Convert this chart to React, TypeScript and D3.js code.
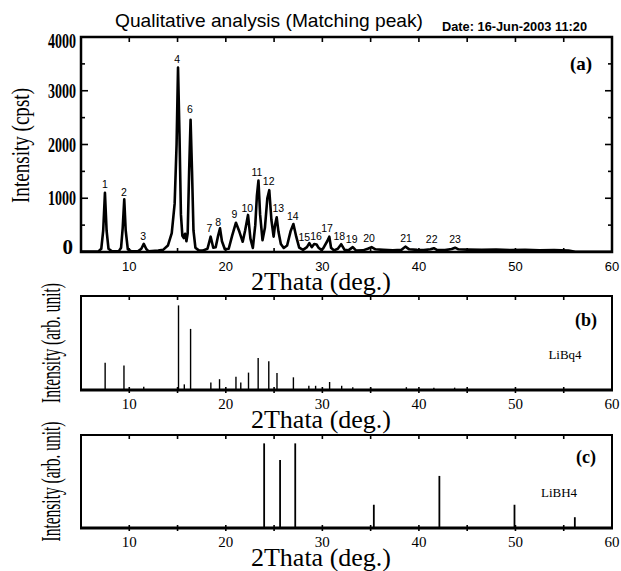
import React from 'react';
import * as d3 from 'd3';

const W = 621;
const H = 571;

// Panel (a): measured XRD pattern, [2θ (deg), intensity (cps)]
const scanA: [number, number][] = [
  [5, 10], [6.8, 12], [7.1, 60], [7.3, 400], [7.48, 1100], [7.65, 400], [7.85, 60], [8.2, 12],
  [8.9, 12], [9.15, 80], [9.32, 450], [9.48, 980], [9.63, 400], [9.85, 50], [10.05, 30], [10.2, 12],
  [10.9, 12], [11.25, 60], [11.5, 150], [11.75, 60], [12.0, 12],
  [13.0, 25], [13.5, 40], [14.0, 120], [14.4, 350], [14.7, 900], [14.9, 2000], [15.05, 3430], [15.2, 2200],
  [15.35, 700], [15.5, 300], [15.65, 260], [15.78, 340], [15.92, 200], [16.05, 350], [16.2, 1500],
  [16.35, 2460], [16.5, 1500], [16.65, 400], [16.85, 80], [17.2, 30],
  [17.6, 25], [18.1, 60], [18.43, 285], [18.7, 80], [18.95, 90], [19.2, 300], [19.4, 440], [19.6, 200],
  [19.9, 50], [20.3, 60], [20.65, 300], [21.05, 545], [21.4, 380], [21.75, 190], [22.0, 400], [22.3, 690],
  [22.55, 250], [22.8, 75], [23.05, 500], [23.22, 1050], [23.38, 1330], [23.55, 700], [23.8, 220],
  [24.05, 450], [24.3, 1000], [24.5, 1150], [24.72, 600], [24.95, 285], [25.1, 500], [25.27, 645],
  [25.45, 380], [25.7, 150], [26.0, 75], [26.35, 120], [26.7, 380], [27.0, 520], [27.3, 280], [27.6, 80],
  [28.0, 40], [28.4, 90], [28.65, 165], [28.9, 90], [29.15, 150], [29.4, 140], [29.6, 80], [29.9, 40],
  [30.1, 70], [30.5, 200], [30.72, 285], [30.9, 80], [31.2, 30], [31.6, 60], [31.95, 145], [32.3, 40],
  [32.7, 30], [33.15, 90], [33.5, 25], [34.2, 30], [34.7, 60], [35.1, 90], [35.5, 50], [36.3, 40],
  [37.3, 30], [38.2, 40], [38.6, 100], [39.0, 50], [39.8, 40], [40.5, 35], [41.2, 50], [41.55, 70],
  [41.9, 35], [42.7, 35], [43.4, 55], [43.75, 80], [44.1, 50], [45, 45], [46.5, 40], [48, 45],
  [49.5, 35], [51, 40], [52.5, 30], [54, 35], [55.5, 25], [56.2, 5], [58, 5], [60, 5],
];

// Peak numbering of panel (a)
const peakNo = [1, 2, 3, 4, 6, 7, 8, 9, 10, 11, 12, 13, 14, 15, 16, 17, 18, 19, 20, 21, 22, 23];
const peakLabelDeg = [7.49, 9.45, 11.45, 14.97, 16.29, 18.29, 19.22, 20.88, 22.22, 23.23, 24.44, 25.44,
  26.93, 28.13, 29.34, 30.48, 31.75, 33.04, 34.83, 38.66, 41.32, 43.74];
const peakLabelCps = [1260, 1110, 300, 3585, 2655, 440, 565, 700, 825, 1495, 1325, 825, 675, 285, 300,
  450, 300, 240, 255, 255, 240, 240];

// Panel (b): LiBq4 reference lines (relative intensity %)
const liBq4Deg = [7.5, 9.45, 11.5, 15.1, 15.7, 16.35, 18.45, 19.35, 21.05, 21.55, 22.35, 23.35, 24.45,
  25.3, 27.0, 28.6, 29.3, 30.75, 32.0, 33.15, 35.0, 38.7, 41.55, 43.7];
const liBq4Int = [29, 26, 3.5, 90, 6, 65, 8, 11.5, 14, 8, 18.5, 34, 30.5, 18, 13.5, 4.5, 4.5, 8.5, 4.5,
  3, 2.5, 3, 2.5, 2.5];

// Panel (c): LiBH4 reference lines (relative intensity %)
const liBH4Deg = [23.97, 25.62, 27.19, 35.33, 42.12, 49.9, 56.15];
const liBH4Int = [91, 73, 91, 25, 56, 25, 11.6];

const xTickLabels = [10, 20, 30, 40, 50, 60];
const yTickLabelsA = [0, 1000, 2000, 3000, 4000];

const x = d3.scaleLinear().domain([5, 60]).range([81, 612]);
const yA = d3.scaleLinear().domain([0, 4000]).range([252, 37]);
const yB = d3.scaleLinear().domain([0, 100]).range([390, 296]);
const yC = d3.scaleLinear().domain([0, 100]).range([528, 435]);

const minorX = d3.range(10, 60, 5);
const serif = '"Liberation Serif", "Times New Roman", serif';
const sans = '"Liberation Sans", Arial, sans-serif';

function XTicks({ y0, y1, labelFont, labelSize, labelDy }: any) {
  return (
    <g>
      {minorX.map((v) => (
        <g key={v}>
          <line x1={x(v)} x2={x(v)} y1={y1} y2={y1 + 4} stroke="#000" strokeWidth={1.6} />
          <line x1={x(v)} x2={x(v)} y1={y0 - 3} y2={y0 + 3} stroke="#000" strokeWidth={1.6} />
        </g>
      ))}
      {xTickLabels.map((v) => (
        <text key={v} x={x(v)} y={y0 + labelDy} textAnchor="middle" dominantBaseline="central"
          fontFamily={labelFont} fontSize={labelSize} fill="#000">{v}</text>
      ))}
    </g>
  );
}

function StickPanel({ deg, vals, y, label, name, nameX, nameY, labelY, sw }: any) {
  const [y0, y1] = y.range();
  return (
    <g>
      {deg.map((d: number, i: number) => (
        <line key={i} x1={x(d)} x2={x(d)} y1={y(0)} y2={y(vals[i])} stroke="#000" strokeWidth={sw} />
      ))}
      <path d={`M${x(5)},${y0} L${x(5)},${y1} L${x(60)},${y1} L${x(60)},${y0}`} fill="none" stroke="#000" strokeWidth={2} />
      <line x1={x(5) - 1} x2={x(60) + 1} y1={y0} y2={y0} stroke="#000" strokeWidth={3} />
      <XTicks y0={y0} y1={y1} labelFont={serif} labelSize={15} labelDy={13.5} />
      <text x={586} y={labelY} textAnchor="middle" fontFamily={serif} fontWeight="bold" fontSize={18}>{label}</text>
      <text x={nameX} y={nameY} textAnchor="middle" fontFamily={serif} fontSize={13}>{name}</text>
      <text transform={`translate(60,${(y0 + y1) / 2}) rotate(-90)`} textAnchor="middle" fontFamily={serif}
        fontSize={28} textLength={120} lengthAdjust="spacingAndGlyphs">Intensity (arb. unit)</text>
      <text x={321} y={y0 + 38} textAnchor="middle" fontFamily={serif} fontSize={26}>2Thata (deg.)</text>
    </g>
  );
}

export default function App() {
  const line = d3.line<[number, number]>().x((d) => x(d[0])).y((d) => yA(d[1]));
  const ySub = d3.range(500, 4000, 500);
  return (
    <svg width={W} height={H} viewBox={`0 0 ${W} ${H}`} style={{ position: 'absolute', left: 0, top: 0, background: '#fff' }}>
      <rect x={0} y={0} width={W} height={H} fill="#fff" />
      {/* Titles */}
      <text x={115} y={27} fontFamily={sans} fontSize={19} textLength={308} lengthAdjust="spacingAndGlyphs">
        Qualitative analysis (Matching peak)
      </text>
      <text x={442} y={31} fontFamily={sans} fontWeight="bold" fontSize={13} textLength={145} lengthAdjust="spacingAndGlyphs">
        Date: 16-Jun-2003 11:20
      </text>

      {/* Panel (a) */}
      <path d={line(scanA) || ''} fill="none" stroke="#000" strokeWidth={2.6} strokeLinejoin="round" />
      <rect x={x(5)} y={yA(4000)} width={x(60) - x(5)} height={yA(0) - yA(4000)} fill="none" stroke="#000" strokeWidth={2.5} />
      {ySub.map((v) => {
        const len = v % 1000 === 0 ? 7 : 4;
        return (
          <g key={v}>
            <line x1={x(5)} x2={x(5) + len} y1={yA(v)} y2={yA(v)} stroke="#000" strokeWidth={1.6} />
            <line x1={x(60)} x2={x(60) - len} y1={yA(v)} y2={yA(v)} stroke="#000" strokeWidth={1.6} />
          </g>
        );
      })}
      {minorX.map((v) => (
        <g key={v}>
          <line x1={x(v)} x2={x(v)} y1={yA(4000)} y2={yA(4000) + 5} stroke="#000" strokeWidth={1.6} />
          <line x1={x(v)} x2={x(v)} y1={yA(0)} y2={yA(0) - 4} stroke="#000" strokeWidth={1.6} />
        </g>
      ))}
      {xTickLabels.map((v) => (
        <text key={v} x={x(v)} y={yA(0) + 14} textAnchor="middle" dominantBaseline="central"
          fontFamily={sans} fontSize={13}>{v}</text>
      ))}
      {yTickLabelsA.map((v) => {
        const yy = Math.min(Math.max(yA(v), yA(4000) + 4), yA(0) - 5);
        return v === 0 ? (
          <text key={v} x={73} y={yy} textAnchor="end" dominantBaseline="central" fontFamily={serif}
            fontWeight="bold" fontSize={21}>{v}</text>
        ) : (
          <text key={v} x={76} y={yy} textAnchor="end" dominantBaseline="central" fontFamily={serif}
            fontWeight="bold" fontSize={21} textLength={28} lengthAdjust="spacingAndGlyphs">{v}</text>
        );
      })}
      {peakNo.map((n, i) => (
        <text key={n} x={x(peakLabelDeg[i])} y={yA(peakLabelCps[i])} textAnchor="middle" dominantBaseline="central"
          fontFamily={sans} fontSize={10.5}>{n}</text>
      ))}
      <text x={581} y={70} textAnchor="middle" fontFamily={serif} fontWeight="bold" fontSize={19}>(a)</text>
      <text transform={`translate(29,145.5) rotate(-90)`} textAnchor="middle" fontFamily={serif}
        fontSize={25} textLength={115} lengthAdjust="spacingAndGlyphs">Intensity (cpst)</text>
      <text x={321} y={290} textAnchor="middle" fontFamily={serif} fontSize={26}>2Thata (deg.)</text>

      {/* Panel (b) */}
      <StickPanel deg={liBq4Deg} vals={liBq4Int} y={yB} label="(b)" name="LiBq4" nameX={565} nameY={359}
        labelY={326} sw={1.4} />
      {/* Panel (c) */}
      <StickPanel deg={liBH4Deg} vals={liBH4Int} y={yC} label="(c)" name="LiBH4" nameX={559} nameY={497}
        labelY={463} sw={1.8} />
    </svg>
  );
}
